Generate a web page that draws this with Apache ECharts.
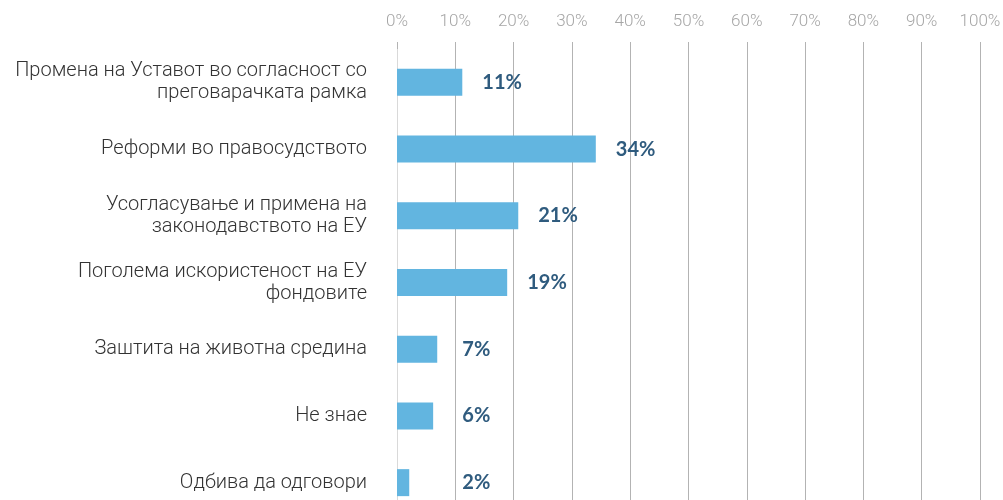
<!DOCTYPE html>
<html>
<head>
<meta charset="utf-8">
<script src="https://cdn.jsdelivr.net/npm/echarts@6/dist/echarts.min.js"></script>
<style>
  html, body { margin: 0; padding: 0; background: #fff; }
  #chart { width: 1003px; height: 500px; }
</style>
</head>
<body>
<div id="chart"></div>
<script>
// categories, top to bottom
var categories = [
  'Промена на Уставот во согласност со\nпреговарачката рамка',
  'Реформи во правосудството',
  'Усогласување и примена на\nзаконодавството на ЕУ',
  'Поголема искористеност на ЕУ\nфондовите',
  'Заштита на животна средина',
  'Не знае',
  'Одбива да одговори'
]
// share of answers, %
var shares = [11.2, 34.1, 20.8, 18.9, 6.9, 6.2, 2.1]
var axisTicks = [0, 10, 20, 30, 40, 50, 60, 70, 80, 90, 100]

var gridLeft = 397
var gridRight = 23
var pxPerPct = (1003 - gridLeft - gridRight) / 100

var gridColors = axisTicks.map(function(t) {
  return t === 0 ? '#d9d9d9' : '#b3b3b3'
})

var chart = echarts.init(document.getElementById('chart'))

var option = {
  backgroundColor: '#fff',
  animation: false,
  grid: {
    left: gridLeft,
    right: gridRight,
    top: 49,
    height: 467,
    outerBoundsMode: 'none',
    containLabel: false
  },
  xAxis: {
    type: 'value',
    position: 'top',
    min: axisTicks[0],
    max: axisTicks[axisTicks.length - 1],
    interval: 10,
    axisLine: { show: false },
    axisTick: {
      show: true,
      length: 7,
      lineStyle: { color: '#b3b3b3', width: 1 }
    },
    axisLabel: {
      margin: 19,
      color: '#a6a6a6',
      fontFamily: 'Roboto',
      fontWeight: 300,
      fontSize: 17,
      formatter: '{value}%'
    },
    splitLine: {
      show: true,
      lineStyle: { color: gridColors, width: 1 }
    }
  },
  yAxis: {
    type: 'category',
    inverse: true,
    data: categories,
    axisLine: { show: false },
    axisTick: { show: false },
    axisLabel: {
      margin: 30,
      color: '#333',
      fontFamily: 'Roboto',
      fontWeight: 300,
      fontSize: 20,
      lineHeight: 22,
      align: 'right'
    }
  },
  series: [
    {
      type: 'bar',
      barWidth: 27,
      itemStyle: { color: '#62b5e0' },
      data: shares.map(function(v) {
        return {
          value: v,
          label: { distance: Math.max(20, (11.2 - v) * pxPerPct) }
        }
      }),
      label: {
        show: true,
        position: 'right',
        color: '#2f5b7e',
        fontFamily: 'Lato',
        fontWeight: 'bold',
        fontSize: 20,
        formatter: function(p) {
          return Math.round(p.value) + '%'
        }
      }
    }
  ]
}

chart.setOption(option)
</script>
</body>
</html>
